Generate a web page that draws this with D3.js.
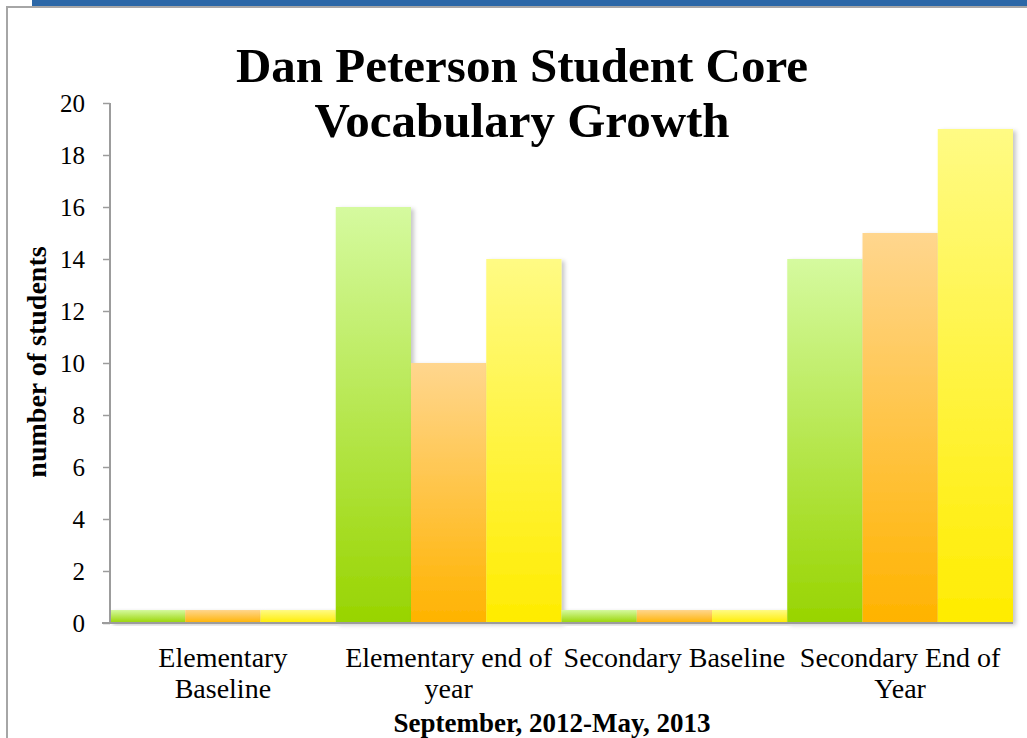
<!DOCTYPE html>
<html>
<head>
<meta charset="utf-8">
<script src="https://cdn.jsdelivr.net/npm/d3@7"></script>
<style>
  html, body { margin: 0; padding: 0; background: #fff; }
  svg { display: block; }
  text { font-family: "Liberation Serif", "Times New Roman", serif; fill: #000; }
</style>
</head>
<body>
<svg id="chart" width="1027" height="738"></svg>
<script>
// chart data
const categories = ["Elementary Baseline", "Elementary end of year", "Secondary Baseline", "Secondary End of Year"];
const categoryLines = [["Elementary", "Baseline"], ["Elementary end of", "year"], ["Secondary Baseline"], ["Secondary End of", "Year"]];
const seriesNames = ["Series 1", "Series 2", "Series 3"];
const series1 = [0.5, 16, 0.5, 14];
const series2 = [0.5, 10, 0.5, 15];
const series3 = [0.5, 14, 0.5, 19];
const yTicks = [0, 2, 4, 6, 8, 10, 12, 14, 16, 18, 20];
const titleLines = ["Dan Peterson Student Core", "Vocabulary Growth"];
const yTitle = "number of students";
const xTitle = "September, 2012-May, 2013";

const seriesValues = [series1, series2, series3];
const gradStops = [
  ["#d5fa9f", "#98d400"],
  ["#ffd68e", "#ffb300"],
  ["#fffb84", "#ffec00"]
];
const serif = '"Liberation Serif", "Times New Roman", serif';

const svg = d3.select("#chart");
const defs = svg.append("defs");

// slide frame: blue bar and grey border
svg.append("rect").attr("x", 32).attr("y", 0).attr("width", 995).attr("height", 6).attr("fill", "#2b67a7");
svg.append("rect").attr("x", 6).attr("y", 6).attr("width", 1021).attr("height", 2).attr("fill", "#a6a6a6");
svg.append("rect").attr("x", 6).attr("y", 6).attr("width", 2).attr("height", 732).attr("fill", "#a6a6a6");

seriesNames.forEach((s, i) => {
  const g = defs.append("linearGradient")
    .attr("id", "grad" + i)
    .attr("x1", 0).attr("y1", 0).attr("x2", 0).attr("y2", 1);
  g.append("stop").attr("offset", "0%").attr("stop-color", gradStops[i][0]);
  g.append("stop").attr("offset", "100%").attr("stop-color", gradStops[i][1]);
});

const shadow = defs.append("filter").attr("id", "shadow")
  .attr("x", "-10%").attr("y", "-10%").attr("width", "130%").attr("height", "130%");
shadow.append("feDropShadow")
  .attr("dx", 3).attr("dy", 2).attr("stdDeviation", 2)
  .attr("flood-color", "#000").attr("flood-opacity", 0.22);

const plot = { left: 110, right: 1013, top: 103, bottom: 623 };

const x = d3.scaleBand().domain(categories).range([plot.left, plot.right]).padding(0);
const xs = d3.scaleBand().domain(seriesNames).range([0, x.bandwidth()]).padding(0);
const y = d3.scaleLinear().domain([0, 20]).range([plot.bottom, plot.top]);

// bars
const groups = svg.append("g").selectAll("g")
  .data(categories)
  .join("g")
  .attr("transform", d => `translate(${x(d)},0)`);

groups.selectAll("rect")
  .data((d, ci) => seriesNames.map((s, si) => ({ s, si, v: seriesValues[si][ci] })))
  .join("rect")
  .attr("x", d => xs(d.s))
  .attr("y", d => y(d.v))
  .attr("width", xs.bandwidth())
  .attr("height", d => y(0) - y(d.v))
  .attr("fill", d => `url(#grad${d.si})`)
  .attr("filter", "url(#shadow)");

// y axis
const yAxis = svg.append("g")
  .attr("transform", `translate(${plot.left},0)`)
  .call(d3.axisLeft(y).tickValues(yTicks).tickSize(7).tickPadding(18).tickFormat(d3.format("d")));
yAxis.attr("font-family", serif).attr("font-size", 25);
yAxis.select(".domain").attr("stroke", "#9c9c9c").attr("stroke-width", 2)
  .attr("d", `M0,${plot.top}V${plot.bottom}`);
yAxis.selectAll(".tick line").attr("stroke", "#9c9c9c").attr("stroke-width", 1.5);
yAxis.selectAll(".tick text")
  .style("font-family", serif)
  .style("font-size", "25px")
  .attr("fill", "#000");

// x axis
const xAxis = svg.append("g")
  .attr("transform", `translate(0,${plot.bottom})`)
  .call(d3.axisBottom(x).tickSize(0).tickFormat(""));
xAxis.select(".domain").attr("stroke", "#9c9c9c").attr("stroke-width", 2)
  .attr("d", `M${plot.left - 8},0H${plot.right}`);

const xLabels = svg.append("g");
categories.forEach((c, i) => {
  const t = xLabels.append("text")
    .attr("text-anchor", "middle")
    .style("font-size", "28px")
    .attr("x", x(c) + x.bandwidth() / 2)
    .attr("y", 667);
  categoryLines[i].forEach((line, li) => {
    t.append("tspan")
      .attr("x", x(c) + x.bandwidth() / 2)
      .attr("dy", li === 0 ? 0 : 31)
      .text(line);
  });
});

// titles
svg.append("g").selectAll("text")
  .data(titleLines)
  .join("text")
  .attr("x", 522)
  .attr("y", (d, i) => 82 + i * 55)
  .attr("text-anchor", "middle")
  .style("font-size", "49px")
  .style("font-weight", "bold")
  .text(d => d);

svg.append("text")
  .attr("transform", "translate(46,362) rotate(-90)")
  .attr("text-anchor", "middle")
  .style("font-size", "28px")
  .style("font-weight", "bold")
  .text(yTitle);

svg.append("text")
  .attr("x", 552)
  .attr("y", 732)
  .attr("text-anchor", "middle")
  .style("font-size", "27px")
  .style("font-weight", "bold")
  .text(xTitle);
</script>
</body>
</html>
